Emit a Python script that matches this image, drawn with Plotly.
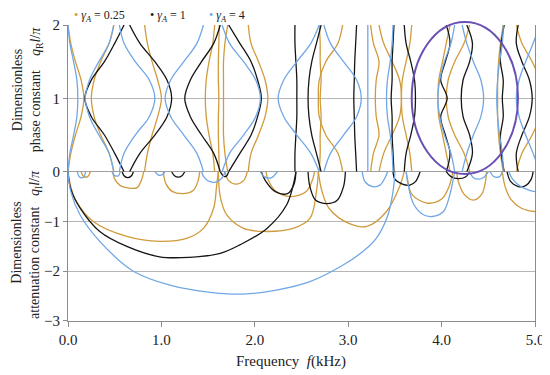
import plotly.graph_objects as go

# ---------------- data ----------------
# Upper panel: each branch = frequencies (kHz) at q_R l/pi = 0, .25, .5, .75, 1 ; the band is mirrored about 1
Y_HALF = [0.0, 0.25, 0.5, 0.75, 1.0]

orange_top = [
    [0.00, 0.03, 0.08, 0.14, 0.17],
    [0.49, 0.44, 0.35, 0.28, 0.25],
    [0.82, 0.85, 0.90, 0.96, 1.00],
    [1.57, 1.55, 1.51, 1.48, 1.47],
    [1.62, 1.615, 1.61, 1.61, 1.615],
    [1.71, 1.68, 1.665, 1.665, 1.665],
    [1.93, 1.96, 2.04, 2.11, 2.14],
    [2.94, 2.89, 2.76, 2.69, 2.68],
    [2.69, 2.70, 2.70, 2.71, 2.70],
    [3.33, 3.38, 3.47, 3.55, 3.57],
    [3.24, 3.27, 3.33, 3.30, 3.29],
    [3.68, 3.66, 3.62, 3.58, 3.57],
    [4.09, 4.05, 4.01, 3.97, 3.96],
    [4.30, 4.24, 4.14, 4.07, 4.05],
    [4.66, 4.63, 4.61, 4.60, 4.60],
    [4.80, 4.86, 4.97, 5.05, 5.08],
]
black_top = [
    [0.60, 0.50, 0.39, 0.25, 0.18],
    [0.66, 0.77, 0.93, 1.06, 1.11],
    [1.63, 1.56, 1.43, 1.31, 1.25],
    [1.72, 1.84, 1.96, 2.03, 2.07],
    [2.43, 2.43, 2.44, 2.45, 2.45],
    [2.71, 2.66, 2.61, 2.58, 2.57],
    [3.09, 3.08, 3.07, 3.065, 3.06],
    [3.49, 3.48, 3.47, 3.47, 3.46],
    [3.60, 3.62, 3.67, 3.71, 3.72],
    [4.05, 4.09, 4.04, 3.99, 4.06],
    [4.27, 4.33, 4.30, 4.23, 4.21],
    [4.67, 4.64, 4.63, 4.66, 4.65],
    [4.82, 4.80, 4.86, 4.94, 4.97],
]
blue_top = [
    [0.00, 0.02, 0.06, 0.095, 0.105],
    [0.49, 0.44, 0.33, 0.23, 0.185],
    [0.55, 0.60, 0.72, 0.87, 0.93],
    [1.45, 1.38, 1.24, 1.10, 1.04],
    [1.65, 1.73, 1.88, 2.01, 2.06],
    [2.69, 2.60, 2.45, 2.31, 2.25],
    [2.74, 2.81, 2.95, 3.09, 3.14],
    [3.21, 3.21, 3.21, 3.21, 3.21],
    [3.48, 3.47, 3.45, 3.42, 3.41],
    [4.14, 4.10, 4.03, 3.98, 3.96],
    [4.22, 4.27, 4.34, 4.42, 4.45],
    [4.66, 4.65, 4.62, 4.60, 4.59],
    [5.05, 4.98, 4.90, 4.83, 4.80],
]

# Lower panel: attenuation arcs (frequency list, q_I l/pi list)
orange_bottom = [
    ([0, 0.03, 0.09, 0.27, 0.63, 0.98, 1.27, 1.45, 1.56, 1.59, 1.61],
     [0, -0.3, -0.6, -1.0, -1.3, -1.4, -1.34, -1.14, -0.73, -0.3, 0]),
    ([1.61, 1.63, 1.70, 1.88, 2.09, 2.41, 2.59, 2.66, 2.68],
     [0, -0.5, -0.87, -1.14, -1.2, -1.14, -0.94, -0.4, 0]),
    ([2.68, 2.72, 2.80, 3.02, 3.20, 3.41, 3.55, 3.60],
     [0, -0.4, -0.75, -1.05, -1.1, -0.8, -0.3, 0]),
    ([0.14, 0.17, 0.21, 0.24], [0, -0.1, -0.1, 0]),
    ([0.48, 0.50, 0.56, 0.65, 0.74, 0.79, 0.81], [0, -0.15, -0.28, -0.33, -0.32, -0.15, 0]),
    ([1.02, 1.05, 1.12, 1.24, 1.34, 1.39, 1.41], [0, -0.25, -0.4, -0.44, -0.38, -0.2, 0]),
    ([1.68, 1.72, 1.80, 1.88, 1.92], [0, -0.18, -0.25, -0.18, 0]),
    ([2.12, 2.14, 2.23, 2.38, 2.55, 2.62, 2.64], [0, -0.15, -0.4, -0.5, -0.4, -0.15, 0]),
    ([3.62, 3.64, 3.68, 3.84, 4.00, 4.08, 4.12], [0, -0.2, -0.45, -0.63, -0.55, -0.3, 0]),
    ([4.16, 4.18, 4.24, 4.34, 4.43, 4.47, 4.48], [0, -0.2, -0.45, -0.57, -0.45, -0.2, 0]),
    ([4.65, 4.68, 4.74, 4.85, 4.93, 5.0], [0, -0.3, -0.55, -0.73, -0.78, -0.8]),
]
black_bottom = [
    ([0, 0.03, 0.13, 0.34, 0.63, 0.98, 1.30, 1.63, 1.84, 2.13, 2.34, 2.42, 2.44],
     [0, -0.35, -0.73, -1.2, -1.5, -1.71, -1.72, -1.64, -1.47, -1.14, -0.67, -0.2, 0]),
    ([0.58, 0.60, 0.64, 0.68, 0.70], [0, -0.08, -0.12, -0.08, 0]),
    ([1.11, 1.14, 1.18, 1.22, 1.25], [0, -0.08, -0.11, -0.08, 0]),
    ([1.63, 1.66, 1.68, 1.70, 1.72], [0, -0.08, -0.1, -0.08, 0]),
    ([2.07, 2.12, 2.22, 2.35, 2.42, 2.44], [0, -0.2, -0.4, -0.44, -0.25, 0]),
    ([2.57, 2.59, 2.65, 2.76, 2.88, 2.95, 2.97], [0, -0.3, -0.57, -0.64, -0.58, -0.3, 0]),
    ([3.48, 3.50, 3.58, 3.66, 3.72, 3.77], [0, -0.15, -0.25, -0.27, -0.2, 0]),
    ([4.05, 4.10, 4.18, 4.26, 4.30], [0, -0.1, -0.14, -0.1, 0]),
    ([4.70, 4.74, 4.82, 4.90, 4.96, 4.98], [0, -0.2, -0.3, -0.28, -0.15, 0]),
]
blue_bottom = [
    ([0, 0.03, 0.13, 0.34, 0.70, 1.09, 1.50, 1.88, 2.23, 2.59, 2.95, 3.16, 3.30, 3.42, 3.48, 3.50],
     [0, -0.4, -0.87, -1.4, -2.0, -2.28, -2.42, -2.46, -2.38, -2.21, -1.87, -1.6, -1.34, -0.9, -0.4, 0]),
    ([0.10, 0.12, 0.16, 0.19], [0, -0.1, -0.12, 0]),
    ([0.47, 0.50, 0.54, 0.56], [0, -0.08, -0.08, 0]),
    ([0.93, 0.97, 1.01, 1.04], [0, -0.07, -0.06, 0]),
    ([1.43, 1.46, 1.52, 1.60, 1.66, 1.68], [0, -0.12, -0.2, -0.2, -0.1, 0]),
    ([2.06, 2.10, 2.18, 2.24], [0, -0.1, -0.12, 0]),
    ([3.15, 3.18, 3.26, 3.34, 3.40, 3.42], [0, -0.2, -0.3, -0.27, -0.1, 0]),
    ([3.62, 3.64, 3.70, 3.80, 3.90, 4.02, 4.09, 4.13, 4.14],
     [0, -0.25, -0.65, -0.86, -0.9, -0.8, -0.45, -0.1, 0]),
    ([4.30, 4.34, 4.40, 4.46, 4.50], [0, -0.12, -0.15, -0.1, 0]),
    ([4.52, 4.56, 4.62, 4.65], [0, -0.1, -0.1, 0]),
    ([4.72, 4.76, 4.85, 4.95, 5.0], [0, -0.15, -0.3, -0.38, -0.4]),
]

x_ticks = [0, 1, 2, 3, 4, 5]
x_ticktext = ["0.0", "1.0", "2.0", "3.0", "4.0", "5.0"]
series_names = ["0.25", "1", "4"]

# ---------------- styling ----------------
ORANGE = "#D09B3C"
BLACK = "#151515"
BLUE = "#71A7E6"
PURPLE = "#6A50B4"
FONT = "Liberation Serif"
LW = 1.3

fig = go.Figure()


def add_top(branches, color):
    for fv in branches:
        xs = list(fv) + list(fv[-2::-1])
        ys = list(Y_HALF) + [2 - y for y in Y_HALF[-2::-1]]
        fig.add_trace(go.Scatter(x=xs, y=ys, mode="lines", xaxis="x", yaxis="y",
                                 line=dict(color=color, width=LW, shape="spline", smoothing=1.0),
                                 showlegend=False, hoverinfo="skip"))


def add_bottom(arcs, color):
    for xs, ys in arcs:
        fig.add_trace(go.Scatter(x=xs, y=ys, mode="lines", xaxis="x", yaxis="y2",
                                 line=dict(color=color, width=LW, shape="spline", smoothing=1.0),
                                 showlegend=False, hoverinfo="skip"))


add_top(orange_top, ORANGE)
add_top(black_top, BLACK)
add_top(blue_top, BLUE)
add_bottom(orange_bottom, ORANGE)
add_bottom(black_bottom, BLACK)
add_bottom(blue_bottom, BLUE)

SPLIT = 0.5044
tickfont = dict(family=FONT, size=15, color="#222")

# the page places the figure 8 px from the window's top-left corner
fig.update_layout(
    width=542, height=367,
    margin=dict(l=60, r=15, t=17, b=54),
    paper_bgcolor="white", plot_bgcolor="white",
    showlegend=False,
    xaxis=dict(domain=[0, 1], range=[0, 5], anchor="y2", tickvals=x_ticks, ticktext=x_ticktext,
               showgrid=False, zeroline=False, showline=True, linecolor="#8C8C8C", linewidth=1,
               ticks="outside", ticklen=5, tickcolor="#8C8C8C", tickfont=tickfont, automargin=False),
    yaxis=dict(domain=[SPLIT, 1], range=[0, 2], anchor="x", tickvals=[0, 1, 2], mirror=True,
               showgrid=True, gridcolor="#B5B5B5", gridwidth=1, zeroline=False,
               showline=True, linecolor="#8C8C8C", linewidth=1, ticks="outside", ticklen=4,
               tickcolor="#8C8C8C", tickfont=tickfont, automargin=False),
    yaxis2=dict(domain=[0, SPLIT], range=[-3, 0], anchor="x", tickvals=[-3, -2, -1], mirror=True,
                showgrid=True, gridcolor="#B5B5B5", gridwidth=1, zeroline=False,
                showline=True, linecolor="#8C8C8C", linewidth=1, ticks="outside", ticklen=4,
                tickcolor="#8C8C8C", tickfont=tickfont, automargin=False),
)

# y = 0 separator line
fig.add_shape(type="line", xref="x", yref="y", x0=0, x1=5, y0=0, y1=0,
              line=dict(color="#808080", width=1.6), layer="below")
# highlighted region (ellipse)
fig.add_shape(type="circle", xref="paper", yref="paper", x0=0.736, x1=0.9636, y0=0.4966, y1=1.0101,
              line=dict(color=PURPLE, width=2))

# legend-like labels
legend_colors = [ORANGE, BLACK, BLUE]
legend_x = [0.0086, 0.171, 0.298]
for name, col, lx in zip(series_names, legend_colors, legend_x):
    fig.add_annotation(xref="paper", yref="paper", x=lx, y=1.031, xanchor="left", yanchor="middle",
                       showarrow=False,
                       text=f"<span style='color:{col}'>•</span> <i>γ</i><sub><i>A</i></sub> = {name}",
                       font=dict(family=FONT, size=12, color="#222"))

# axis titles
title_font = dict(family=FONT, size=14, color="#222")
fig.add_annotation(xref="paper", yref="paper", x=-0.109, y=0.780, textangle=-90, showarrow=False,
                   text="Dimensionless", font=title_font, xanchor="center", yanchor="middle")
fig.add_annotation(xref="paper", yref="paper", x=-0.0685, y=0.780, textangle=-90, showarrow=False,
                   text="phase constant    <i>q</i><sub>R</sub><i>l</i>/<i>π</i>", font=title_font,
                   xanchor="center", yanchor="middle")
fig.add_annotation(xref="paper", yref="paper", x=-0.112, y=0.2635, textangle=-90, showarrow=False,
                   text="Dimensionless", font=title_font, xanchor="center", yanchor="middle")
fig.add_annotation(xref="paper", yref="paper", x=-0.0685, y=0.257, textangle=-90, showarrow=False,
                   text="attenuation constant   <i>q</i><sub>I</sub><i>l</i>/<i>π</i>", font=title_font,
                   xanchor="center", yanchor="middle")
fig.add_annotation(xref="paper", yref="paper", x=0.4775, y=-0.1385, showarrow=False,
                   text="Frequency  <i>f</i>(kHz)", font=dict(family=FONT, size=15, color="#222"),
                   xanchor="center", yanchor="middle")

fig.write_html("out.html")
